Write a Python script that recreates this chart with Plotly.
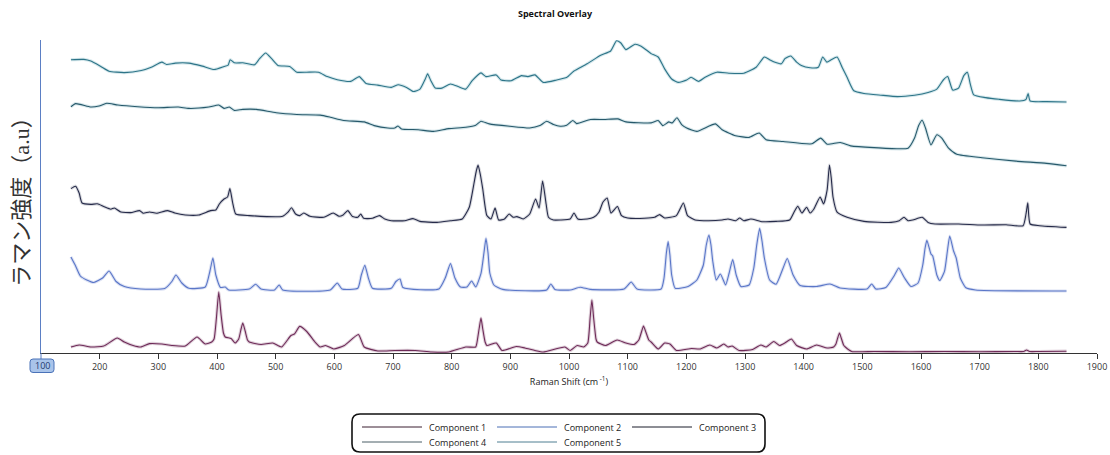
import plotly.graph_objects as go

# ---------------- data (arbitrary intensity units) ----------------
c1_x = [151,165,185,207,230,242,257,270,285,306,323,346,366,380,391,395,399,403,407,411,414,424,431,437,441,444,448,452,455,475,495,510,526,532,541,553,567,576,585,599,617,641,651,674,703,738,766,795,824,841,843,847,850,853,857,860,876,886,910,925,942,956,993,1002,1014,1025,1032,1036,1039,1042,1046,1048,1062,1082,1097,1111,1119,1124,1127,1131,1136,1140,1152,1163,1172,1183,1209,1223,1240,1252,1264,1271,1278,1290,1313,1327,1336,1349,1359,1368,1379,1388,1405,1422,1440,1451,1455,1458,1461,1464,1468,1471,1482,1520,1580,1640,1700,1760,1775,1780,1785,1800,1848]
c1_y = [6,8,6,7,15,11,7.5,6,9.4,9,7.5,7,16,9,11,14,35,61,38,20,16,14.5,10,14,24,30,22,13,11,8.5,10,6,17.5,19,26.6,21.5,11,6,7.5,4,7.5,18.5,6,2,2.5,2.5,1,1,6,6,10,25,35,24,11,7.5,10,2.5,6.5,5,2.5,1,6,2.5,7.5,6,10,35,53,35,14,11,7.5,13,10,8.5,13,22,27,21,13,11,4,10,9,2.5,4.5,4,8,5,9,6,7,2.5,3.5,8,6,11.5,7.5,10,14,7.5,4,8,5,6,9,15,20,15,8,6,1.5,1.5,1.2,1.5,1.3,1.5,1.5,3,1.5,1.5,1.8]

c2_x = [151,159,167,178,190,205,216,228,242,270,311,323,330,340,352,380,388,393,398,406,414,420,455,466,475,498,506,512,593,605,613,640,646,652,658,665,697,705,712,717,778,789,798,805.6,815,826,834,841,850,855,858.5,862,865,872,887,962,969,976,1002,1019,1036,1094,1106,1116,1157,1162,1166,1169,1172,1175,1181,1203,1218,1229,1234,1238.6,1242,1245,1251,1258,1267,1273,1279,1285,1293,1307,1315,1320,1325,1329,1333,1342,1353,1365,1372,1382,1394,1422,1445,1462,1508,1516,1523,1540,1555,1562,1572,1583,1595,1603,1607,1610,1614,1617,1620,1627,1632,1640,1645,1649,1655.5,1660,1667,1676,1693,1848]
c2_y = [96,87,77,73,70.5,75,82,71.5,66.4,64,64.5,71.5,78,70,64.7,66,82,95,78,65.5,66,63,64,68.8,64,63,68,63,63,70,64,64.7,78,87.7,75,64.7,64.7,71.5,74,65.5,64,75,89.4,75,66,66,72,66,79.6,100,114.8,100,80,68,63.6,63,69,63.6,63,65.8,63.6,64,71,64,64,75,100,111.4,98,78,64.7,66.5,73,88,108,118,108,92,73,79,68,80,93.5,78,66.5,68,85,108,124.6,112,95,73,68.8,85,94.5,78,67.5,66.5,69,65,64,69,64,65.5,78,85,75,66.5,70,88,105,112.7,105,99,97,78,72.5,81.6,102,117,102,95,75,65.5,63,62]

c3_x = [151,159,165,170,185,196,207,219,225,236,253,268,274,285,297,316,328,346,369,389,398,404,412,418,422,426.6,432,455,512,521,527,534,541,548,558.5,582,598,608,615,623,631,640,645,650,665,677,686,697,720,734,746,775,798,818,830,838,842,845,849,853,860,867,874,880,890,898,905,911,922,933,943,949,955,961,965,973.5,985,1002,1008.5,1015,1031,1042,1051,1058,1065,1071.5,1082.5,1089.5,1100,1128.6,1146,1154.5,1163,1183,1195,1202,1215,1238,1261,1271,1284,1291,1298,1310,1330,1353,1376,1383.5,1390,1397,1405,1411,1417.5,1428,1434,1440,1444,1447,1450,1457,1474,1503,1549,1563,1571,1578,1586,1602,1612,1624,1664,1704,1745,1774,1779,1782,1786,1802,1848]
c3_y = [164.4,166.8,160,150,148.6,149.2,146.5,143.8,145,141,140.4,142.4,139.8,141,139.8,142.4,140,138,138,142.4,143,149,154,156,164.4,150.5,139,137.4,136.7,140.8,145.2,139,137.4,140,136.7,135.7,140,136.7,138,142.4,136.4,135.7,139,134.7,134.7,137.4,134,132.3,132.3,134.4,131.6,130.6,132.3,134,145.8,169.5,182,188,178,164,137.4,134,145,133,134,139,135.7,136.4,134,139,154,145,172,149,135.7,133,133,134,140,134,134,135.7,140.8,151,155,140,146.5,137.4,135,134.7,135.7,138.4,135,137.4,150,137.4,133,132.3,133,134,132.3,135,132.3,134,131.3,131.6,133,140.8,146.8,140,145.8,140,144,156,149,163,188,175,156,140.8,135.7,131.6,130.6,132.3,135.7,132.3,133,135.7,130.6,129,129,128,128.3,127.3,139,150.2,129,127.3,125.6]

c4_x = [151,159,185,199,212,231,265,300,334,352,386,403,412,421,429.5,444,467,501,536,576,593,616,651,668,691,703,708.5,714.5,743,769,795,824,841,850,864,899,933,950.5,962,973.5,985,996,1006.5,1013,1036.5,1059.5,1083.6,1097,1140,1152,1160,1170,1176,1184,1192,1200.6,1218,1238,1249.5,1261,1284,1307,1324,1336,1365,1414,1429,1440,1462.5,1480,1520,1578,1589,1596,1602,1607.6,1617,1627,1635.4,1647,1661,1704,1762,1814,1848]
c4_y = [246.3,249.4,246,247,249.7,248,246.3,245.3,246,244.6,246,248,244.6,246,242.6,243.6,243.6,240.2,238.5,237.9,235.8,232.5,231.1,227.4,225,225,227,224,223.3,221.6,224.4,225.7,227.7,231.8,229.1,226.7,225,227.4,231.8,228.4,226.7,227.7,232.5,229.4,233.5,233.5,234.1,231.1,230.1,232.5,227.4,231.1,230.1,235.2,228.4,225,221.6,226.7,229.1,223.3,217.3,215.6,220,213.2,211.5,209.2,214.9,208.8,210.5,207.1,205.4,204.8,214.9,227.4,232.8,225,208.1,218.3,214.9,204.8,198.7,195.3,191.9,189.6,187.2]

c5_x = [151,173,185,202,216,242,271,288,306,314,329,352,375,395,412,419,422.5,429.5,444,464,472.6,483,493,504,524,536,553,573,588,605,628,642.5,654,674,697,709,723,734.6,746,755,759,764.5,772,783.5,798,812,824,835,850,858.5,876,884,901.6,919,930,942,956,979,996.5,1008,1031,1054,1071,1081,1088,1097,1112.5,1123,1140,1152,1163,1175,1186,1200.6,1208,1221,1232,1252,1272.5,1298,1319,1333,1342,1350,1362,1368,1378,1388,1396,1411,1425,1432.5,1439.5,1447,1457,1465.5,1474,1485.5,1503,1532,1560,1589,1612,1627,1638,1645.5,1654,1664,1673,1679,1684,1690,1710,1733,1768,1779,1782.6,1786,1814,1848]
c5_y = [293.3,293.6,291.9,286.5,281.8,280.4,282.5,285.8,290.9,288.5,289.9,289.9,286.9,283.5,286.5,287.9,293.3,290.2,290.2,288.2,294.3,300,294.3,287.5,286.5,280.8,280.8,280.8,276.4,273.3,271.6,276.4,269.6,267.9,265.6,268.3,265.6,261.5,263.9,274,279.1,272.3,264.9,264.9,269,266.2,263.9,272.3,280.1,276.4,278.1,273,272.3,277.4,276.4,278.1,270.6,273,275.7,281.8,289.2,297.7,302,312.2,310.2,303.4,308.8,306.8,299.4,296,284.1,274,270.6,273,275.7,271.6,275.7,280.8,279.8,279.8,285.8,296,293.3,290.9,289.2,294.3,297,290.9,287.5,285.2,285.8,296,290.9,293.3,296,285.8,275.7,262.2,259.5,257.8,256.4,257.8,260.5,263.9,273,276.4,262.9,264.9,277.4,280.8,269,258.1,255.4,253.7,252,253.7,259.5,252,251.4,251]

names = ["Component 1", "Component 2", "Component 3", "Component 4", "Component 5"]
colors = ["#6e2b58", "#5a76c8", "#262b4a", "#27596b", "#2d7488"]
halos = ["rgba(110,43,88,0.22)", "rgba(90,118,200,0.22)", "rgba(38,43,74,0.18)",
         "rgba(70,140,160,0.22)", "rgba(70,150,170,0.22)"]
legend_colors = ["#3a1f30", "#4a6fb5", "#1a1c2a", "#4a5f66", "#4f7f92"]
xs = [c1_x, c2_x, c3_x, c4_x, c5_x]
ys = [c1_y, c2_y, c3_y, c4_y, c5_y]

tick_vals = list(range(200, 2000, 100))
tick_text = [str(v) for v in tick_vals]

# plot-area geometry (pixels) used to place paper-referenced decorations
L, R, T, B = 41, 1097, 40, 353
def px(xp):
    return (xp - L) / (R - L)
def py(yp):
    return (B - yp) / (B - T)

fig = go.Figure()
for x, y, h in zip(xs, ys, halos):
    fig.add_trace(go.Scatter(x=x, y=y, mode="lines", line=dict(color=h, width=3.2, shape="spline", smoothing=0.5),
                             hoverinfo="skip", showlegend=False))
for x, y, n, c in zip(xs, ys, names, colors):
    fig.add_trace(go.Scatter(x=x, y=y, mode="lines", name=n, showlegend=False,
                             line=dict(color=c, width=1.1, shape="spline", smoothing=0.5)))

FONT = "Open Sans, Noto Sans, sans-serif"

fig.update_layout(
    width=1110, height=455,
    margin=dict(l=L, r=1110 - R, t=T, b=455 - B),
    paper_bgcolor="white", plot_bgcolor="white",
    font=dict(family=FONT, size=9, color="#222"),
    showlegend=False,
    title=dict(text="<b>Spectral Overlay</b>", x=0.5, xref="container", xanchor="center",
               y=0.969, yref="container", yanchor="middle",
               font=dict(family=FONT, size=9, color="#111")),
    xaxis=dict(range=[100, 1900], tickvals=tick_vals, ticktext=tick_text, automargin=False,
               showgrid=False, zeroline=False, showline=True, linecolor="#333", linewidth=1,
               ticks="outside", ticklen=5, tickcolor="#333",
               tickfont=dict(size=9, color="#333"),
               title=dict(text="Raman Shift (cm<sup> -1</sup>)", font=dict(size=9, color="#222"),
                          standoff=6)),
    yaxis=dict(range=[0, 313], showgrid=False, zeroline=False, showticklabels=False, automargin=False,
               showline=True, linecolor="#5b7fc4", linewidth=1, ticks="",
               title=dict(text="ラマン強度（a.u）",
                          font=dict(family="Liberation Serif, Noto Sans CJK JP", size=22, color="#333"),
                          standoff=4)),
)

# legend drawn as a framed key below the plot
x0, x1 = px(352), px(765)
y0, y1 = py(452), py(414)
rx, ry = 8 / (R - L), 8 / (B - T)
frame = (f"M{x0+rx},{y1} L{x1-rx},{y1} Q{x1},{y1} {x1},{y1-ry} L{x1},{y0+ry} "
         f"Q{x1},{y0} {x1-rx},{y0} L{x0+rx},{y0} Q{x0},{y0} {x0},{y0+ry} "
         f"L{x0},{y1-ry} Q{x0},{y1} {x0+rx},{y1} Z")
fig.add_shape(type="path", path=frame, xref="paper", yref="paper",
              line=dict(color="#111", width=1.6), fillcolor="rgba(0,0,0,0)", layer="above")
for i, (n, c) in enumerate(zip(names, legend_colors)):
    col, row = i % 3, i // 3
    lx = 362 + 135 * col
    ly = 427 + 15 * row
    fig.add_shape(type="line", xref="paper", yref="paper",
                  x0=px(lx), x1=px(lx + 60), y0=py(ly), y1=py(ly),
                  line=dict(color=c, width=1))
    fig.add_annotation(x=px(lx + 65), y=py(ly), xref="paper", yref="paper", text=n,
                       showarrow=False, xanchor="left", yanchor="middle",
                       font=dict(size=9, color="#222"))

# highlighted "100" label at the origin of the x axis (rounded box + text)
fig.add_shape(type="line", xref="paper", yref="paper", x0=0, x1=0, y0=py(353), y1=py(359),
              line=dict(color="#5b7fc4", width=1))
bx0, bx1 = px(30), px(54)
by0, by1 = py(372.5), py(359)
brx, bry = 3 / (R - L), 3 / (B - T)
box = (f"M{bx0+brx},{by1} L{bx1-brx},{by1} Q{bx1},{by1} {bx1},{by1-bry} L{bx1},{by0+bry} "
       f"Q{bx1},{by0} {bx1-brx},{by0} L{bx0+brx},{by0} Q{bx0},{by0} {bx0},{by0+bry} "
       f"L{bx0},{by1-bry} Q{bx0},{by1} {bx0+brx},{by1} Z")
fig.add_shape(type="path", path=box, xref="paper", yref="paper",
              fillcolor="#a9c4ea", line=dict(color="#4a72b8", width=1), layer="above")
fig.add_annotation(x=px(42), xref="paper", y=py(365.8), yref="paper", text="100",
                   showarrow=False, font=dict(size=9, color="#1f3a6e"),
                   xanchor="center", yanchor="middle")

fig.write_html("out.html")
